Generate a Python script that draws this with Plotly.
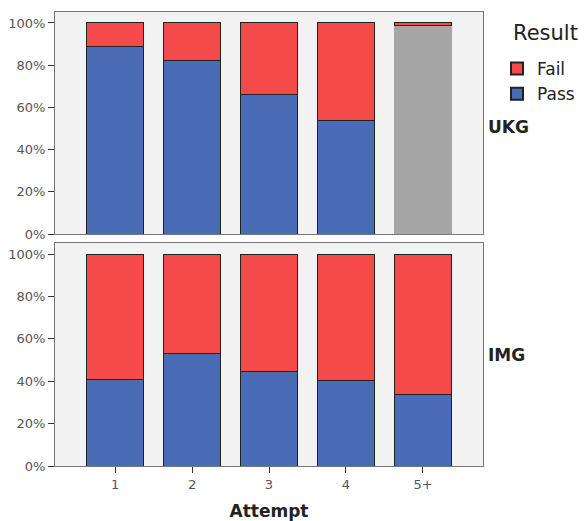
import plotly.graph_objects as go
from plotly.subplots import make_subplots

attempts = ["1", "2", "3", "4", "5+"]
ukg_pass = [89, 82, 66, 54, 99]
ukg_fail = [11, 18, 34, 46, 1]
img_pass = [41, 53, 44.5, 40.5, 33.5]
img_fail = [59, 47, 55.5, 59.5, 66.5]
groups = ["UKG", "IMG"]

BLUE = "#4a6bb5"
RED = "#f44b4a"
GREY = "#a6a6a6"
EDGE = "#222222"
FONT = "DejaVu Sans"

W, H = 587, 521
L, R, T, B = 55, 104, 12, 55
PH = H - T - B


def py(pixel_y):
    return (H - B - pixel_y) / PH


fig = make_subplots(rows=2, cols=1, shared_xaxes=True, vertical_spacing=0.02)

ukg_colors = [BLUE] * 4 + [GREY]
ukg_edges = [EDGE] * 4 + [GREY]

fig.add_trace(go.Bar(x=attempts, y=ukg_pass, name="Pass", legendgroup="Pass",
                     marker=dict(color=ukg_colors, line=dict(color=ukg_edges, width=1)),
                     showlegend=False), row=1, col=1)
fig.add_trace(go.Bar(x=attempts, y=ukg_fail, name="Fail", legendgroup="Fail",
                     marker=dict(color=RED, line=dict(color=EDGE, width=1)),
                     showlegend=False), row=1, col=1)
fig.add_trace(go.Bar(x=attempts, y=img_pass, name="Pass", legendgroup="Pass",
                     marker=dict(color=BLUE, line=dict(color=EDGE, width=1)),
                     showlegend=True), row=2, col=1)
fig.add_trace(go.Bar(x=attempts, y=img_fail, name="Fail", legendgroup="Fail",
                     marker=dict(color=RED, line=dict(color=EDGE, width=1)),
                     showlegend=True), row=2, col=1)

fig.update_layout(
    width=W, height=H,
    margin=dict(l=L, r=R, t=T, b=B, autoexpand=False),
    barmode="stack", bargap=0.25,
    paper_bgcolor="white", plot_bgcolor="#f2f2f2",
    font=dict(family=FONT, size=13, color="#555555"),
    legend=dict(x=(497 - L) / (W - L - R), y=py(51), xanchor="left", yanchor="top",
                traceorder="reversed",
                font=dict(size=17, color="#222222"),
                itemsizing="constant", tracegroupgap=0, itemwidth=30,
                bgcolor="rgba(0,0,0,0)"),
)

fig.update_layout(
    yaxis=dict(domain=[py(234), 1.0]),
    yaxis2=dict(domain=[0.0, py(243)]),
)

for r in (1, 2):
    fig.update_yaxes(row=r, col=1, range=[0, 105.2], tickvals=[0, 20, 40, 60, 80, 100],
                     ticktext=["0%", "20%", "40%", "60%", "80%", "100%"],
                     showgrid=False, zeroline=False, showline=True, linecolor="#777777",
                     mirror=True, ticks="outside", ticklen=6, tickcolor="#333333",
                     tickfont=dict(size=13, color="#555555"))
    fig.update_xaxes(row=r, col=1, range=[-0.78, 4.78], showgrid=False, zeroline=False,
                     showline=True, linecolor="#777777", mirror=True)

fig.update_xaxes(row=1, col=1, ticks="", showticklabels=False)
fig.update_xaxes(row=2, col=1, ticks="outside", ticklen=6, tickcolor="#333333",
                 tickfont=dict(size=13, color="#555555"),
                 title=dict(text="<b>Attempt</b>", font=dict(size=17, color="#222222"), standoff=22))

fig.add_annotation(text="Result", xref="paper", yref="paper", x=(511 - L) / (W - L - R), y=py(33),
                   xanchor="left", yanchor="middle", showarrow=False,
                   font=dict(size=21, color="#222222"))
fig.add_annotation(text="<b>UKG</b>", xref="paper", yref="paper", x=(486 - L) / (W - L - R), y=py(127),
                   xanchor="left", yanchor="middle", showarrow=False,
                   font=dict(size=17, color="#222222"))
fig.add_annotation(text="<b>IMG</b>", xref="paper", yref="paper", x=(486 - L) / (W - L - R), y=py(355),
                   xanchor="left", yanchor="middle", showarrow=False,
                   font=dict(size=17, color="#222222"))

fig.write_html("out.html", config={"displayModeBar": False},
               post_script="document.body.style.margin='0';document.body.style.overflow='hidden';")
